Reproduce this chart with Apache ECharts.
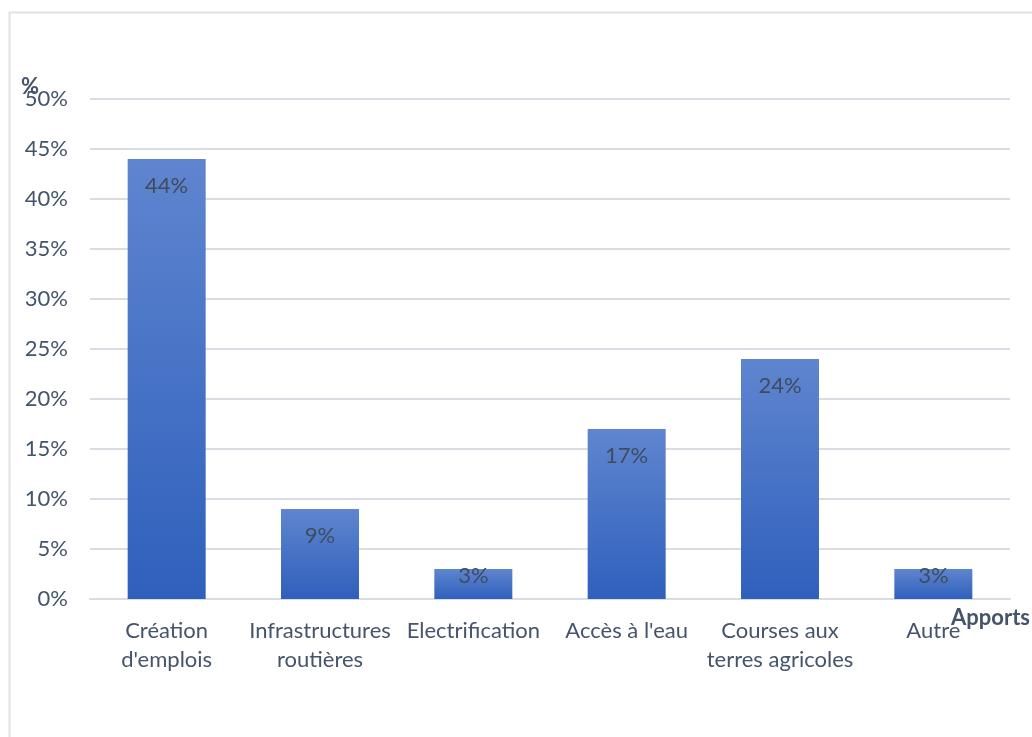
<!DOCTYPE html>
<html>
<head>
<meta charset="utf-8">
<style>
  html, body { margin: 0; padding: 0; background: #ffffff; }
  #chart { width: 1032px; height: 737px; }
</style>
<script src="https://cdn.jsdelivr.net/npm/echarts@6/dist/echarts.min.js"></script>
</head>
<body>
<div id="chart"></div>
<script>
// Apports perçus (% des réponses)
const categories = [
  'Création\nd\'emplois',
  'Infrastructures\nroutières',
  'Electrification',
  'Accès à l\'eau',
  'Courses aux\nterres agricoles',
  'Autre'
];
const values = [44, 9, 3, 17, 24, 3];
const yTicks = [0, 5, 10, 15, 20, 25, 30, 35, 40, 45, 50];
const yUnit = '%';
const xTitle = 'Apports';

const textColor = '#44546a';
const fontFamily = 'Lato, "Open Sans", sans-serif';
const fontSize = 22;

const barFill = {
  type: 'linear', x: 0, y: 0, x2: 0, y2: 1,
  colorStops: [
    { offset: 0, color: '#5f85cf' },
    { offset: 1, color: '#2f60bc' }
  ]
};

const chart = echarts.init(document.getElementById('chart'), null, { renderer: 'canvas' });

chart.setOption({
  animation: false,
  backgroundColor: '#ffffff',
  graphic: [{
    type: 'rect',
    shape: { x: 9.5, y: 12.5, width: 1100, height: 800 },
    style: { fill: 'none', stroke: '#dde2e8', lineWidth: 2 },
    silent: true,
    z: -10
  }, {
    // unit of the value axis
    type: 'text',
    left: 21,
    top: 76,
    style: {
      text: yUnit,
      fill: textColor,
      font: 'bold ' + fontSize + 'px ' + fontFamily
    },
    z: 10
  }, {
    // title of the category axis
    type: 'text',
    right: 2,
    top: 607,
    style: {
      text: xTitle,
      fill: textColor,
      font: 'bold ' + fontSize + 'px ' + fontFamily
    },
    z: 10
  }],
  grid: {
    left: 90, right: 22, top: 99, bottom: 138,
    containLabel: false,
    outerBoundsMode: 'none'
  },
  xAxis: {
    type: 'category',
    data: categories,
    axisLine: { show: true, lineStyle: { color: '#d9dde3', width: 2 } },
    axisTick: { show: false },
    axisLabel: {
      color: textColor, fontFamily: fontFamily, fontSize: fontSize,
      lineHeight: 29, margin: 17, interval: 0
    }
  },
  yAxis: {
    type: 'value',
    min: yTicks[0],
    max: yTicks[yTicks.length - 1],
    interval: 5,
    axisLine: { show: false },
    axisTick: { show: false },
    axisLabel: {
      color: textColor, fontFamily: fontFamily, fontSize: fontSize, margin: 22,
      formatter: v => v + '%'
    },
    splitLine: { show: true, lineStyle: { color: '#d9dde3', width: 2 } }
  },
  series: [{
    type: 'bar',
    data: values.map(v => ({
      value: v,
      label: v < 5 ? { distance: -4 } : {}
    })),
    barWidth: 78,
    itemStyle: { color: barFill },
    label: {
      show: true,
      position: 'insideTop',
      distance: 16,
      color: '#404b5e',
      fontFamily: fontFamily,
      fontSize: fontSize,
      formatter: p => p.value + '%'
    }
  }]
});
</script>
</body>
</html>
